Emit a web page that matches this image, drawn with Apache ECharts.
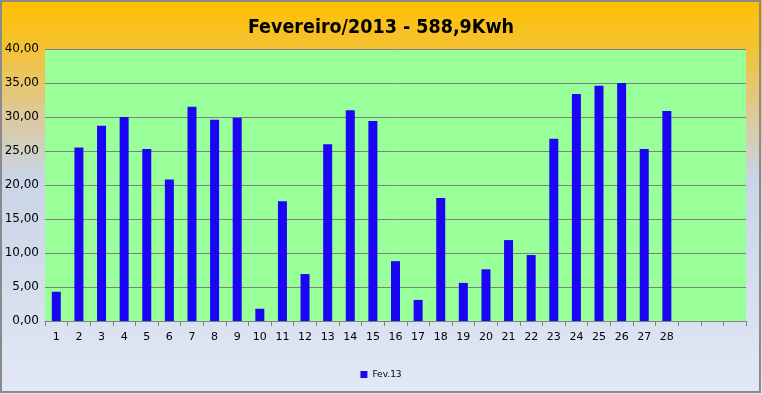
<!DOCTYPE html>
<html><head><meta charset="utf-8">
<script src="https://cdn.jsdelivr.net/npm/echarts@6/dist/echarts.min.js"></script>
<style>html,body{margin:0;padding:0;}#c{width:762px;height:394px;}</style>
</head><body><div id="c"></div>
<script>
const titleText = 'Fevereiro/2013 - 588,9Kwh';
const seriesName = 'Fev.13';
const days = ['1','2','3','4','5','6','7','8','9','10','11','12','13','14','15','16','17','18','19','20','21','22','23','24','25','26','27','28','','',''];
const values = [4.3,25.5,28.7,30.0,25.3,20.8,31.5,29.6,29.9,1.8,17.6,6.9,26.0,31.0,29.4,8.8,3.1,18.1,5.6,7.6,11.9,9.7,26.8,33.4,34.6,35.0,25.3,30.9,null,null,null];

const chart = echarts.init(document.getElementById('c'), null, {renderer:'canvas'});
chart.setOption({
  backgroundColor: {
    type:'linear', x:0, y:0, x2:0, y2:1,
    colorStops:[
      {offset:0, color:'#FFC000'},
      {offset:0.12, color:'#F4C232'},
      {offset:0.28, color:'#DEC894'},
      {offset:0.45, color:'#C9D4E6'},
      {offset:1, color:'#E2E8F5'}
    ]
  },
  graphic:[{type:'rect', shape:{x:1,y:1,width:759,height:391}, style:{fill:'none', stroke:'#8A8A8A', lineWidth:2}, silent:true}],
  title:{text:titleText, left:'center', top:13,
    textStyle:{fontFamily:'"Liberation Sans Narrow","DejaVu Sans Condensed",sans-serif', fontWeight:'bold', fontSize:19.5, color:'#000'}},
  legend:{bottom:10, left:'center', itemWidth:7, itemHeight:7, icon:'rect', itemGap:4,
    textStyle:{fontFamily:'"DejaVu Sans",sans-serif', fontSize:9, color:'#000'}, data:[seriesName]},
  grid:{left:45, right:16, top:49, bottom:73, show:true, backgroundColor:'#99FF99', borderWidth:0},
  xAxis:{type:'category', data:days, boundaryGap:true,
    axisLine:{lineStyle:{color:'#808080', width:1}},
    axisTick:{show:true, alignWithLabel:false, length:5, lineStyle:{color:'#808080'}},
    axisLabel:{color:'#000', fontFamily:'"DejaVu Sans",sans-serif', fontSize:11, margin:11, interval:0}},
  yAxis:{type:'value', min:0, max:40, interval:5,
    axisLine:{show:false},
    axisTick:{show:false},
    splitLine:{lineStyle:{color:'#808080', width:1}},
    axisLabel:{color:'#000', fontFamily:'"DejaVu Sans",sans-serif', fontSize:12, margin:6,
      formatter:v=>v.toFixed(2).replace('.',',')}},
  series:[{name:seriesName, type:'bar', data:values, barWidth:9, itemStyle:{color:'#1A06F5'}, animation:false}]
});
</script></body></html>
